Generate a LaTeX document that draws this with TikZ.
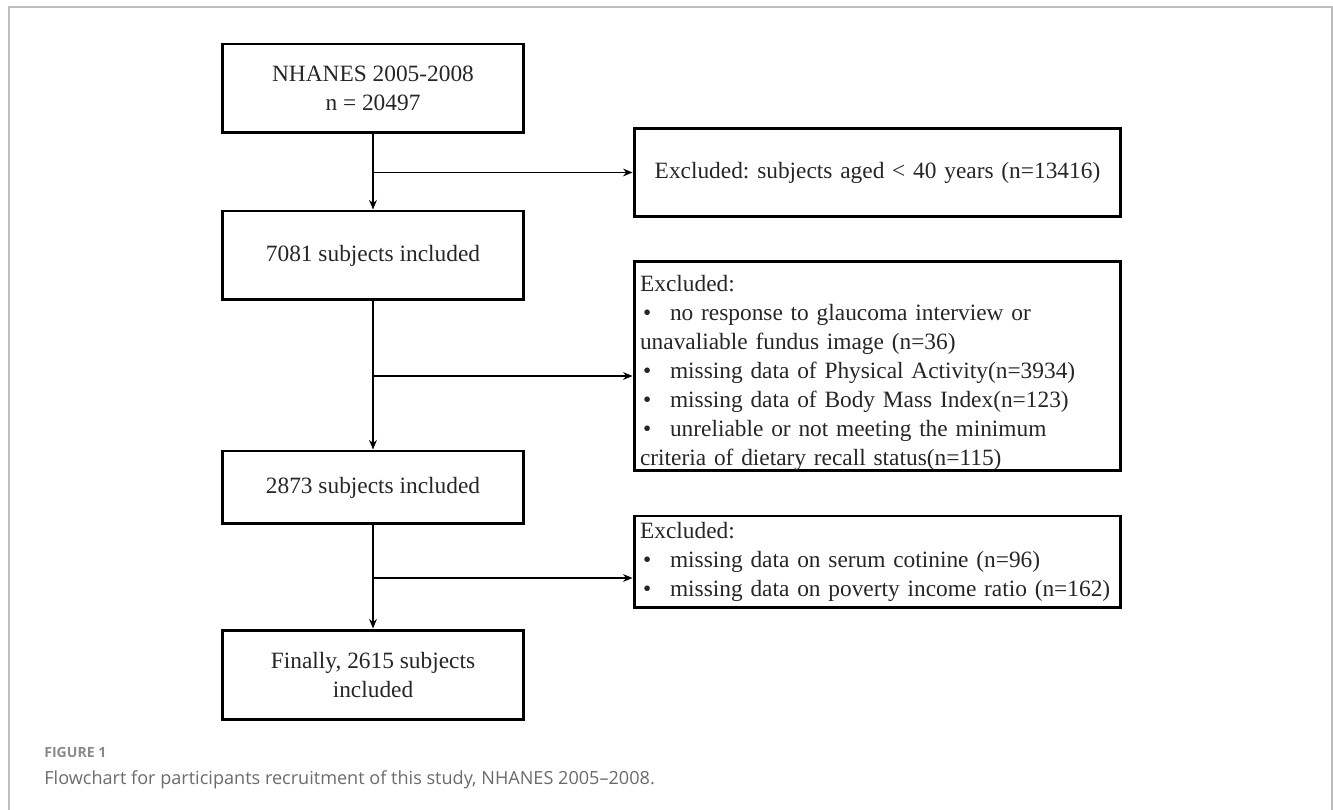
\documentclass[tikz,border=0pt]{standalone}
\usepackage{fontspec}
\setmainfont{Liberation Serif}
\newfontfamily\captionsans{Open Sans}
\usetikzlibrary{arrows.meta,positioning}
\definecolor{framegray}{HTML}{BDBDBD}
\definecolor{figlabelgray}{HTML}{8A8A8A}
\definecolor{captiongray}{HTML}{6B6B6B}
\definecolor{boxtext}{HTML}{262626}
\newcommand{\itembullet}{\makebox[0.6cm][l]{\hspace{0.06cm}\textbullet}}
\frenchspacing

\begin{document}
\begin{tikzpicture}[
  x=0.02cm, y=-0.02cm,
  font=\fontsize{13.3pt}{16.5pt}\selectfont,
  >={Stealth[length=5.4pt,width=4.4pt]},
  flow/.style={->, draw=black, line width=1.1pt},
  stage/.style={
    draw=black, line width=1.7pt, align=center, text=boxtext,
    minimum width=6.04cm, inner sep=0pt
  },
  exclusion/.style={
    draw=black, line width=1.7pt, align=left, text=boxtext,
    text width=9.5cm, inner xsep=0.12cm, inner ysep=0pt
  },
  figlabel/.style={font=\captionsans\bfseries\fontsize{8pt}{9pt}\selectfont,
    text=figlabelgray, anchor=base west, inner sep=0pt},
  caption/.style={font=\captionsans\fontsize{10.3pt}{12pt}\selectfont,
    text=captiongray, anchor=base west, inner sep=0pt}
]
\useasboundingbox (0,0) rectangle (1333,810);

% Outer figure frame.
\draw[framegray, line width=0.85pt] (9,810) |- (1332,7) -- (1332,810);

% Included subjects, top to bottom.
\node[stage, minimum height=1.78cm] (nhanes) at (373,88.5)
  {NHANES 2005-2008\\n = 20497};
\node[stage, minimum height=1.78cm] (incl7081) at (373,255.5)
  {7081 subjects included};
\node[stage, minimum height=1.46cm] (incl2873) at (373,487.5)
  {2873 subjects included};
\node[stage, minimum height=1.80cm] (incl2615) at (373,675)
  {Finally, 2615 subjects\\included};

% Exclusion boxes.
\node[exclusion, align=center, minimum height=1.76cm] (exclAge) at (877.5,172.5)
  {Excluded: subjects aged < 40 years (n=13416)};
\node[exclusion, minimum height=4.2cm] (exclMissing) at (877.5,366)
  {\rule{0pt}{0.6cm}Excluded:\\
   \itembullet no response to glaucoma interview or\\
   unavaliable fundus image (n=36)\\
   \itembullet missing data of Physical Activity(n=3934)\\
   \itembullet missing data of Body Mass Index(n=123)\\
   \itembullet unreliable or not meeting the minimum\\
   criteria of dietary recall status(n=115)};
\node[exclusion, minimum height=1.84cm] (exclCovar) at (877.5,562)
  {Excluded:\\
   \itembullet missing data on serum cotinine (n=96)\\
   \itembullet missing data on poverty income ratio (n=162)};

% Main flow.
\draw[flow] (nhanes) -- (incl7081);
\draw[flow] (incl7081) -- (incl2873);
\draw[flow] (incl2873) -- (incl2615);

% Branches to the exclusions.
\coordinate (splitAge) at (373,172.5);
\coordinate (splitMissing) at (373,376);
\coordinate (splitCovar) at (373,578);
\draw[flow] (splitAge) -- (splitAge -| exclAge.west);
\draw[flow] (splitMissing) -- (splitMissing -| exclMissing.west);
\draw[flow] (splitCovar) -- (splitCovar -| exclCovar.west);

% Caption.
\node[figlabel] (figLabel) at (44,758) {FIGURE 1};
\node[caption] (figCaption) at (44,785)
  {Flowchart for participants recruitment of this study, NHANES 2005–2008.};

\end{tikzpicture}
\end{document}
